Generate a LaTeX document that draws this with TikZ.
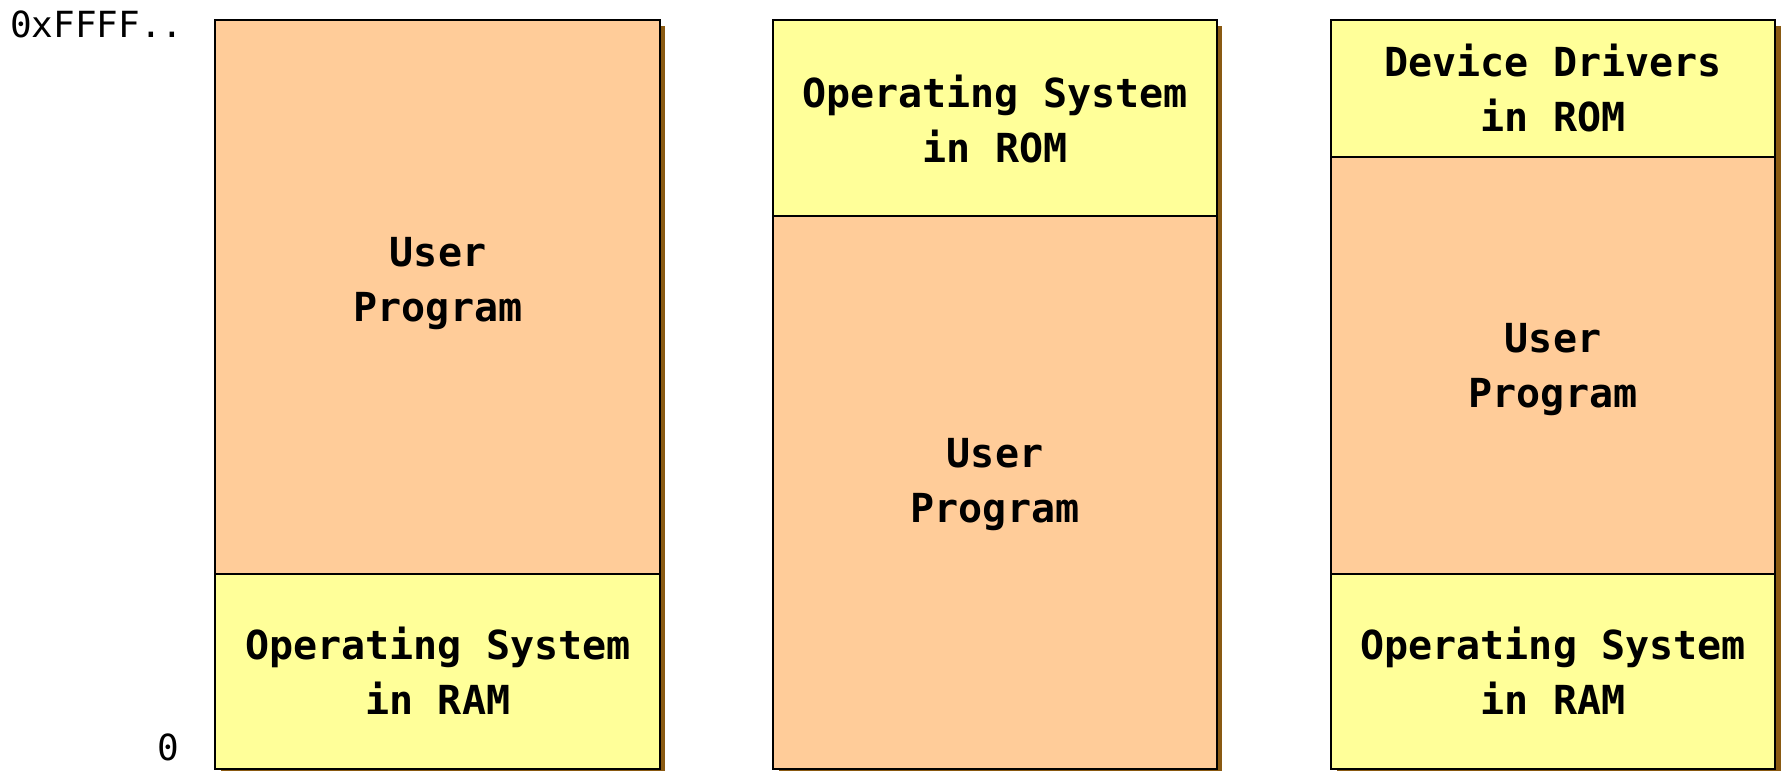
\documentclass[tikz,border=0pt]{standalone}
\usepackage{fontspec}
\usepackage{xcolor}
\usepackage{tikz}
\newfontfamily\memfont{DejaVu Sans Mono}
\definecolor{userorange}{HTML}{FFCC99}
\definecolor{osyellow}{HTML}{FFFF99}
\definecolor{shadowbrown}{HTML}{8A5A12}
\tikzset{
  region/.style={draw=black, line width=2pt},
  outline/.style={draw=black, line width=2.6pt},
  memtext/.style={align=center, font=\memfont\bfseries\fontsize{40}{55}\selectfont},
  addrtext/.style={font=\memfont\fontsize{36}{40}\selectfont}
}

\begin{document}
\begin{tikzpicture}[x=1pt, y=-1pt]
    \useasboundingbox (0,0) rectangle (1783,771);
    % shadows
    \fill[shadowbrown] (221,26) rectangle (665,775);
    \fill[shadowbrown] (779,26) rectangle (1222,775);
    \fill[shadowbrown] (1337,26) rectangle (1781,775);
    {
      \filldraw[region, fill = userorange] (215, 20) rectangle (660, 574);
      \filldraw[region, fill = osyellow] (215, 574) rectangle (660, 769);
      \draw[outline] (215, 20) rectangle (660, 769);
    }
    {
      \filldraw[region, fill = osyellow] (773, 20) rectangle (1217, 216);
      \filldraw[region, fill = userorange] (773, 216) rectangle (1217, 769);
      \draw[outline] (773, 20) rectangle (1217, 769);
    }
    {
      \filldraw[region, fill = osyellow] (1331, 20) rectangle (1775, 157);
      \filldraw[region, fill = userorange] (1331, 157) rectangle (1775, 574);
      \filldraw[region, fill = osyellow] (1331, 574) rectangle (1775, 769);
      \draw[outline] (1331, 20) rectangle (1775, 769);
    }
    \node[memtext] (userA) at (438, 284) {User\\Program};
    \node[memtext] (osramA) at (438, 671) {Operating System\\in RAM};
    \node[memtext] (osrom) at (995, 119) {Operating System\\in ROM};
    \node[memtext] (userB) at (995, 485) {User\\Program};
    \node[memtext] (drivers) at (1553, 88) {Device Drivers\\in ROM};
    \node[memtext] (userC) at (1553, 370) {User\\Program};
    \node[memtext] (osramC) at (1553, 671) {Operating System\\in RAM};
    \node[addrtext, anchor = base west, inner sep = 0pt] (top) at (10, 37) {0xFFFF..};
    \node[addrtext, anchor = base, inner sep = 0pt] (bottom) at (168, 760) {0};
  \end{tikzpicture}
\end{document}
